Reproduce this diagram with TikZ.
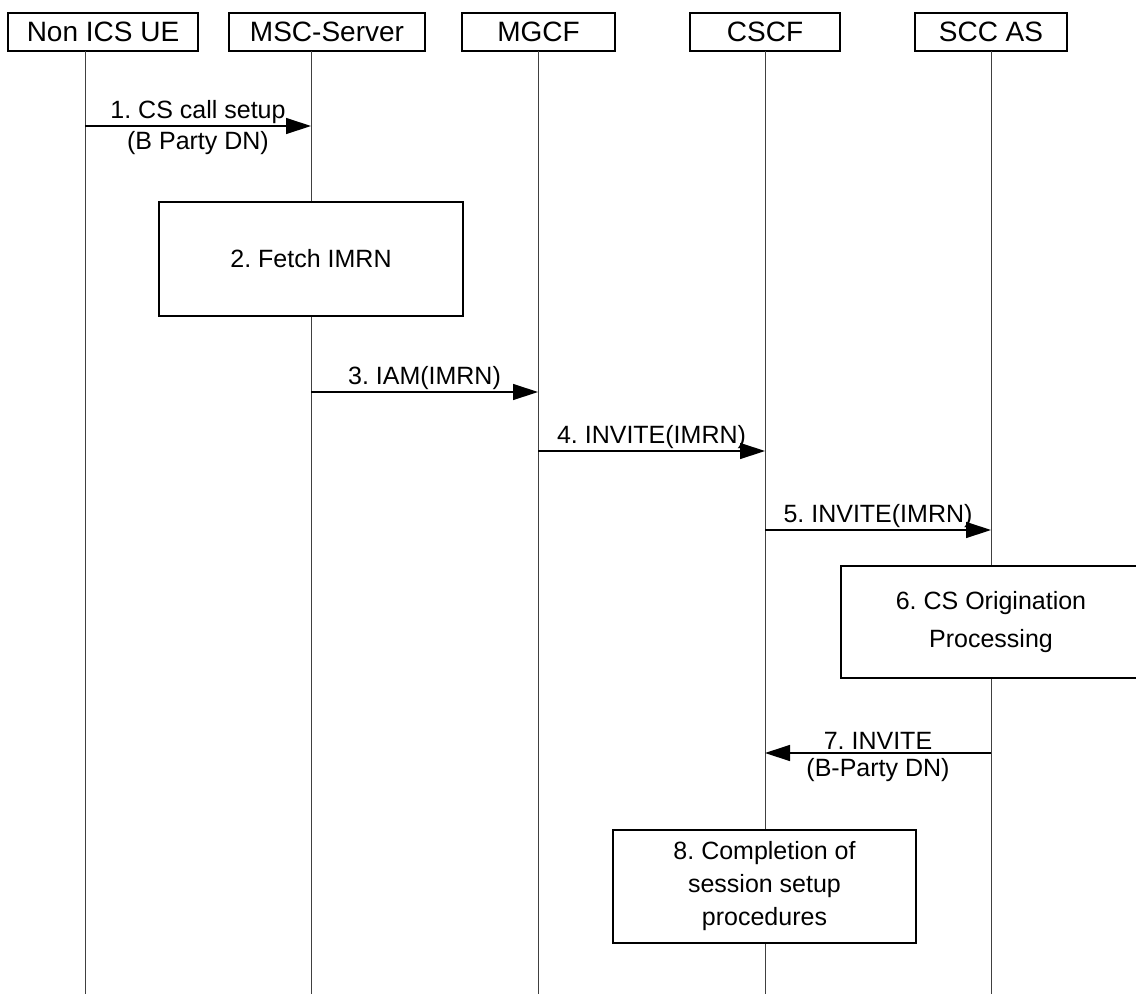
\documentclass[tikz,border=0pt]{standalone}
\usepackage{fontspec}
\setmainfont{Liberation Sans}
\usetikzlibrary{arrows.meta}
\frenchspacing

\tikzset{
    entity/.style={draw,line width=1.3pt,inner sep=0pt,minimum height=38pt,
        font=\fontsize{28}{34}\selectfont},
    action/.style={draw,fill=white,line width=1.3pt,inner sep=0pt,align=center},
    lifeline/.style={line width=1pt,black!75},
    msg/.style={line width=1.3pt,-{Triangle[length=25pt,width=16pt]}},
    msglabel/.style={inner sep=0pt,font=\fontsize{25}{30}\selectfont}
}

\begin{document}
\begin{tikzpicture}[x=1pt,y=-1pt]
        \useasboundingbox (0,0) rectangle (1136,994);

        % Entities
        \node [entity,minimum width=190pt] (ue)   at (103,32)   {Non ICS UE};
        \node [entity,minimum width=196pt] (msc)  at (327,32)   {MSC-Server};
        \node [entity,minimum width=153pt] (mgcf) at (538.5,32) {MGCF};
        \node [entity,minimum width=150pt] (cscf) at (765,32)   {CSCF};
        \node [entity,minimum width=152pt] (scc)  at (991,32)   {SCC AS};

        % Lifelines
        \coordinate (ueTop)   at (85,51);   \coordinate (ueEnd)   at (85,994);
        \coordinate (mscTop)  at (311,51);  \coordinate (mscEnd)  at (311,994);
        \coordinate (mgcfTop) at (538,51);  \coordinate (mgcfEnd) at (538,994);
        \coordinate (cscfTop) at (765,51);  \coordinate (cscfEnd) at (765,994);
        \coordinate (sccTop)  at (991,51);  \coordinate (sccEnd)  at (991,994);
        \draw [lifeline] (ueTop) -- (ueEnd);
        \draw [lifeline] (mscTop) -- (mscEnd);
        \draw [lifeline] (mgcfTop) -- (mgcfEnd);
        \draw [lifeline] (cscfTop) -- (cscfEnd);
        \draw [lifeline] (sccTop) -- (sccEnd);

        % Actions
        \node [action,minimum width=304pt,minimum height=114pt,
            font=\fontsize{25}{35}\selectfont] (fetch) at (311,259)
            {2. Fetch IMRN};
        \node [action,minimum width=300pt,minimum height=112pt,
            font=\fontsize{25}{38}\selectfont] (orig) at (991,622)
            {6. CS Origination\\Processing};
        \node [action,minimum width=303pt,minimum height=113pt,
            font=\fontsize{25}{33}\selectfont] (compl) at (764.5,886.5)
            {8. Completion of\\session setup\\procedures};

        % Messages
        \coordinate (m1a) at (85,126);  \coordinate (m1b) at (311,126);
        \draw [msg] (m1a) -- node [msglabel,above=2pt] {1. CS call setup}
            node [msglabel,below=5pt] {(B Party DN)} (m1b);
        \coordinate (m3a) at (311,392); \coordinate (m3b) at (538,392);
        \draw [msg] (m3a) -- node [msglabel,above=2pt] {3. IAM(IMRN)} (m3b);
        \coordinate (m4a) at (538,451); \coordinate (m4b) at (765,451);
        \draw [msg] (m4a) -- node [msglabel,above=2pt] {4. INVITE(IMRN)} (m4b);
        \coordinate (m5a) at (765,530); \coordinate (m5b) at (991,530);
        \draw [msg] (m5a) -- node [msglabel,above=2pt] {5. INVITE(IMRN)} (m5b);
        \coordinate (m7a) at (991,753); \coordinate (m7b) at (765,753);
        \draw [msg] (m7a) -- node [msglabel,above=3pt] {7. INVITE}
            node [msglabel,below=5pt] {(B-Party DN)} (m7b);
\end{tikzpicture}
\end{document}
